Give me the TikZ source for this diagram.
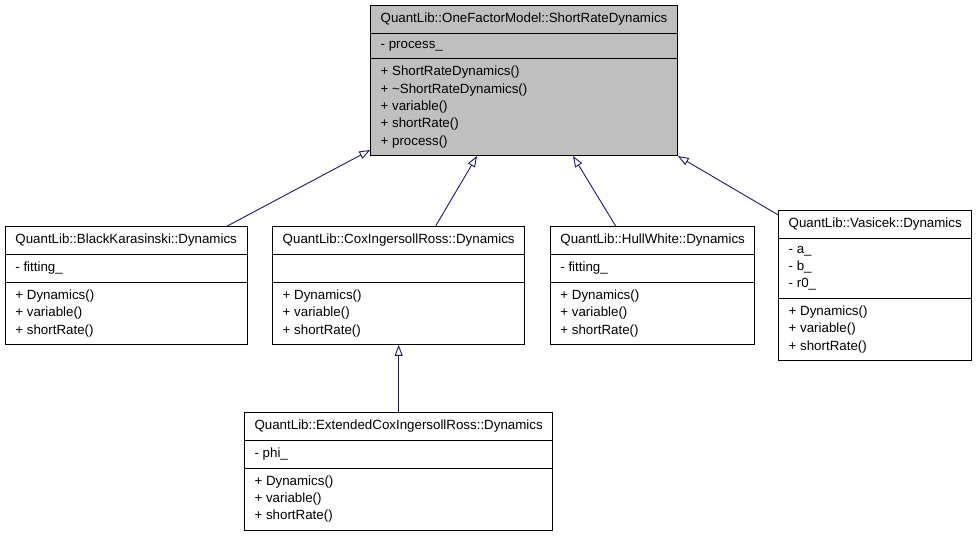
\documentclass[tikz,border=0pt]{standalone}
\usepackage{fontspec}
\setmainfont{Liberation Sans}
\usetikzlibrary{arrows.meta,positioning,shapes.multipart,calc}
\definecolor{navy}{HTML}{191970}

\begin{document}
\begin{tikzpicture}[
	x = 1pt, y = 1pt, % one unit per pixel
	> = {Triangle[length=11pt, width=8pt, fill=white]}, % inheritance head
	C/.style={rectangle split, rectangle split parts=3, draw=black, line width=0.8pt,
	          rectangle split part align={center,left,left}, align=left, fill=white,
	          inner xsep=10pt, inner ysep=7.3pt, font=\fontsize{13.33}{17.3}\selectfont}, % class box
	B/.style={C, fill=black!25}, % base class, shaded
	E/.style={draw=navy, line width=0.9pt}, % inheritance line
	]
	\useasboundingbox (0,0) rectangle (979,536);

	% Base class
	\node[B, anchor=north] (srd) at (524,531)
		{QuantLib::OneFactorModel::ShortRateDynamics
		 \nodepart{two} - process\_
		 \nodepart{three} + ShortRateDynamics()\\ + \textasciitilde ShortRateDynamics()\\ + variable()\\ + shortRate()\\ + process()};

	% Derived classes and their relative positions
	\node[C, anchor=north west] (bk) at (5,310)
		{QuantLib::BlackKarasinski::Dynamics
		 \nodepart{two} - fitting\_
		 \nodepart{three} + Dynamics()\\ + variable()\\ + shortRate()};
	\node[C] (cir) [right = 25pt of bk]
		{QuantLib::CoxIngersollRoss::Dynamics
		 \nodepart{two} \vphantom{- fitting\_}
		 \nodepart{three} + Dynamics()\\ + variable()\\ + shortRate()};
	\node[C] (hw) [right = 25pt of cir]
		{QuantLib::HullWhite::Dynamics
		 \nodepart{two} - fitting\_
		 \nodepart{three} + Dynamics()\\ + variable()\\ + shortRate()};
	\node[C] (vas) [right = 23pt of hw]
		{QuantLib::Vasicek::Dynamics
		 \nodepart{two} - a\_\\ - b\_\\ - r0\_
		 \nodepart{three} + Dynamics()\\ + variable()\\ + shortRate()};
	\node[C] (ecir) [below = 67pt of cir]
		{QuantLib::ExtendedCoxIngersollRoss::Dynamics
		 \nodepart{two} - phi\_
		 \nodepart{three} + Dynamics()\\ + variable()\\ + shortRate()};

	% Inheritance connectors
	\draw[E, ->] ($(bk.north east)+(-20,0)$) -- ($(srd.south west)+(0,6)$);
	\draw[E, ->] ($(cir.north)+(37,0)$) -- ($(srd.south)+(-47,0)$);
	\draw[E, ->] ($(hw.north)+(-37,0)$) -- ($(srd.south)+(49,0)$);
	\draw[E, ->] ($(vas.north west)+(0,-5)$) -- (srd.south east);
	\draw[E, ->] (ecir) -- (cir);

\end{tikzpicture}
\end{document}
